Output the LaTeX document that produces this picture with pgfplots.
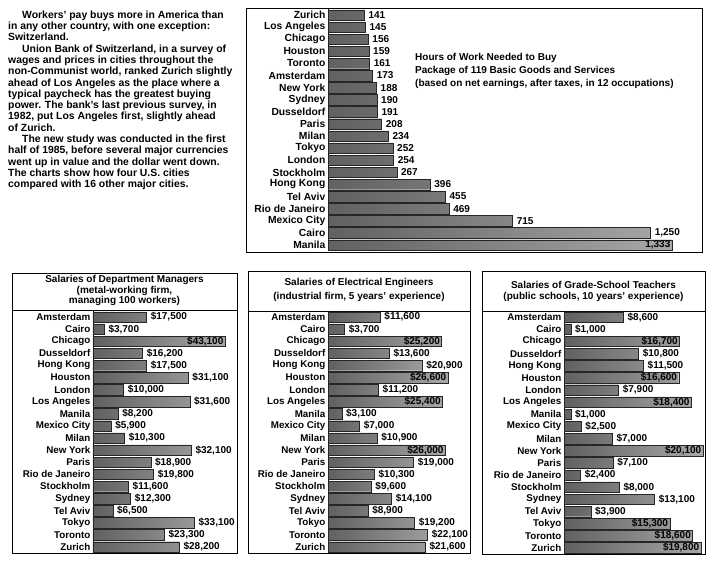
\documentclass[border=0pt]{standalone}
\usepackage{fontspec}
\setmainfont{Liberation Sans}
\usepackage{pgfplots}
\usepackage{pgfplotstable}
\pgfplotsset{compat=1.18}

% hours of work (top chart)
\pgfplotstableread[col sep=comma]{
city,val
Zurich,141
Los Angeles,145
Chicago,156
Houston,159
Toronto,161
Amsterdam,173
New York,188
Sydney,190
Dusseldorf,191
Paris,208
Milan,234
Tokyo,252
London,254
Stockholm,267
Hong Kong,396
Tel Aviv,455
Rio de Janeiro,469
Mexico City,715
Cairo,1250
Manila,1333
}\hours

\pgfplotstableread[col sep=comma]{
city,val
Amsterdam,17500
Cairo,3700
Chicago,43100
Dusseldorf,16200
Hong Kong,17500
Houston,31100
London,10000
Los Angeles,31600
Manila,8200
Mexico City,5900
Milan,10300
New York,32100
Paris,18900
Rio de Janeiro,19800
Stockholm,11600
Sydney,12300
Tel Aviv,6500
Tokyo,33100
Toronto,23300
Zurich,28200
}\managers

\pgfplotstableread[col sep=comma]{
city,val
Amsterdam,11600
Cairo,3700
Chicago,25200
Dusseldorf,13600
Hong Kong,20900
Houston,26600
London,11200
Los Angeles,25400
Manila,3100
Mexico City,7000
Milan,10900
New York,26000
Paris,19000
Rio de Janeiro,10300
Stockholm,9600
Sydney,14100
Tel Aviv,8900
Tokyo,19200
Toronto,22100
Zurich,21600
}\engineers

\pgfplotstableread[col sep=comma]{
city,val
Amsterdam,8600
Cairo,1000
Chicago,16700
Dusseldorf,10800
Hong Kong,11500
Houston,16600
London,7900
Los Angeles,18400
Manila,1000
Mexico City,2500
Milan,7000
New York,20100
Paris,7100
Rio de Janeiro,2400
Stockholm,8000
Sydney,13100
Tel Aviv,3900
Tokyo,15300
Toronto,18600
Zurich,19800
}\teachers

\newcommand{\txt}{\bfseries\fontsize{10}{11.3}\selectfont}
\newcommand{\para}{\bfseries\fontsize{10.4}{11.3}\selectfont}
\newcommand{\citylab}{\bfseries\fontsize{9.8}{10}\selectfont}
\newcommand{\vlab}{\bfseries\fontsize{10}{10}\selectfont}

\pgfplotsset{
  citybars/.style={
    xbar, scale only axis, bar width=10.5pt, bar shift=0pt,
    y dir=reverse, ymin=-0.5, ymax=19.5, xmin=0,
    enlargelimits=false, clip=false,
    axis x line=none, axis y line*=left,
    axis line style={-, line width=0.9pt},
    ytick={0,...,19}, major tick length=0pt,
    yticklabel style={font=\citylab, inner sep=2.5pt},
    point meta=x,
    /pgf/number format/fixed,
    /pgf/number format/precision=0,
    /pgf/number format/1000 sep={,},
    /pgf/number format/assume math mode=true,
    height=242pt,
  },
  barsty/.style={
    draw=black!85, line width=0.4pt, left color=black!62, right color=black!34,
  },
  outlab/.style={draw=none, fill=none, nodes near coords,
    every node near coord/.append style={anchor=west, xshift=2.5pt, font=\vlab, inner sep=1.5pt, text=black}},
  inlab/.style={draw=none, fill=none, nodes near coords,
    every node near coord/.append style={anchor=east, font=\vlab, inner sep=1.5pt, text=black}},
  dollar/.style={nodes near coords={\$\pgfmathprintnumber{\pgfplotspointmeta}}},
}

\begin{document}
\begin{tikzpicture}[x=1pt,y=1pt]
\useasboundingbox (0,0) rectangle (714,-562);

% introduction text
\node[anchor=north west, align=left, inner sep=0pt, font=\para] at (8,-10.5) {%
\hspace*{14pt}Workers' pay buys more in America than\\
in any other country, with one exception:\\
Switzerland.\\
\hspace*{14pt}Union Bank of Switzerland, in a survey of\\
wages and prices in cities throughout the\\
non-Communist world, ranked Zurich slightly\\
ahead of Los Angeles as the place where a\\
typical paycheck has the greatest buying\\
power. The bank's last previous survey, in\\
1982, put Los Angeles first, slightly ahead\\
of Zurich.\\
\hspace*{14pt}The new study was conducted in the first\\
half of 1985, before several major currencies\\
went up in value and the dollar went down.\\
The charts show how four U.S. cities\\
compared with 16 other major cities.};

% top chart
\draw[line width=0.7pt] (246,-8) rectangle (702,-252);
\begin{axis}[citybars, at={(328pt,-251pt)}, anchor=south west,
    width=374pt, xmax=1449,
    yticklabels from table={\hours}{city},
    yticklabel style={font=\bfseries\fontsize{10.3}{10}\selectfont}]
  \addplot[barsty] table[x=val, y expr=\coordindex] {\hours};
  \addplot[outlab, x filter/.expression={x>1300 ? nan : x},
    nodes near coords={\pgfmathprintnumber{\pgfplotspointmeta}}]
    table[x=val, y expr=\coordindex] {\hours};
  \addplot[inlab, x filter/.expression={x<1300 ? nan : x},
    nodes near coords={\pgfmathprintnumber{\pgfplotspointmeta}}]
    table[x=val, y expr=\coordindex] {\hours};
\end{axis}
\node[anchor=west, font=\txt, inner sep=0pt] at (415,-58) {Hours of Work Needed to Buy};
\node[anchor=west, font=\txt, inner sep=0pt] at (415,-71) {Package of 119 Basic Goods and Services};
\node[anchor=west, font=\txt, inner sep=0pt] at (415,-84) {(based on net earnings, after taxes, in 12 occupations)};

% managers
\draw[line width=0.7pt] (12,-273) rectangle (237,-553);
\draw[line width=0.7pt] (12,-310) -- (237,-310);
\node[font=\txt, inner sep=0pt] at (124.5,-280) {Salaries of Department Managers};
\node[font=\txt, inner sep=0pt] at (124.5,-290.5) {(metal-working firm,};
\node[font=\txt, inner sep=0pt] at (124.5,-301) {managing 100 workers)};
\begin{axis}[citybars, at={(93pt,-553pt)}, anchor=south west,
    width=144pt, xmax=47000,
    yticklabels from table={\managers}{city}]
  \addplot[barsty] table[x=val, y expr=\coordindex] {\managers};
  \addplot[outlab, dollar, x filter/.expression={x>40000 ? nan : x}]
    table[x=val, y expr=\coordindex] {\managers};
  \addplot[inlab, dollar, x filter/.expression={x<40000 ? nan : x}]
    table[x=val, y expr=\coordindex] {\managers};
\end{axis}

% engineers
\draw[line width=0.7pt] (248,-271) rectangle (470,-553);
\draw[line width=0.7pt] (248,-311) -- (470,-311);
\node[font=\txt, inner sep=0pt] at (359,-283) {Salaries of Electrical Engineers};
\node[font=\txt, inner sep=0pt] at (359,-297) {(industrial firm, 5 years' experience)};
\begin{axis}[citybars, at={(328pt,-553pt)}, anchor=south west,
    width=142pt, xmax=31500,
    yticklabels from table={\engineers}{city}]
  \addplot[barsty] table[x=val, y expr=\coordindex] {\engineers};
  \addplot[outlab, dollar, x filter/.expression={x>24000 ? nan : x}]
    table[x=val, y expr=\coordindex] {\engineers};
  \addplot[inlab, dollar, x filter/.expression={x<24000 ? nan : x}]
    table[x=val, y expr=\coordindex] {\engineers};
\end{axis}

% teachers
\draw[line width=0.7pt] (482,-271) rectangle (705,-554);
\draw[line width=0.7pt] (482,-311) -- (705,-311);
\node[font=\txt, inner sep=0pt] at (593.5,-285) {Salaries of Grade-School Teachers};
\node[font=\txt, inner sep=0pt] at (593.5,-297) {(public schools, 10 years' experience)};
\begin{axis}[citybars, at={(564pt,-554pt)}, anchor=south west,
    width=141pt, xmax=20400, height=243pt,
    yticklabels from table={\teachers}{city}]
  \addplot[barsty] table[x=val, y expr=\coordindex] {\teachers};
  \addplot[outlab, dollar, x filter/.expression={x>14000 ? nan : x}]
    table[x=val, y expr=\coordindex] {\teachers};
  \addplot[inlab, dollar, x filter/.expression={x<14000 ? nan : x}]
    table[x=val, y expr=\coordindex] {\teachers};
\end{axis}
\end{tikzpicture}
\end{document}
